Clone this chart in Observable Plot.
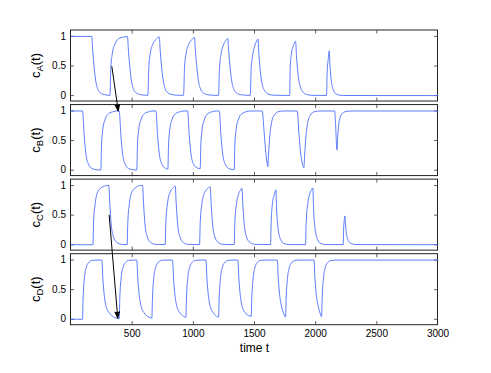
<!DOCTYPE html>
<html><head><meta charset="utf-8">
<script src="https://cdn.jsdelivr.net/npm/d3@7"></script>
<script src="https://cdn.jsdelivr.net/npm/@observablehq/plot@0.6"></script>
<style>body{margin:0;background:#fff}</style>
</head><body><div id="chart"></div>
<script>
// ---- data ----
const panelNames = ["A", "B", "C", "D"];
const xTicks = [500, 1000, 1500, 2000, 2500, 3000];
const yTicks = [0, 0.5, 1];
const yTickLabels = ["0", "0.5", "1"];
const xLabel = "time t";

const cA = [[0,1],[170,1],
 [176,0.81],[187,0.53],[200,0.28],[219,0.11],[241,0.045],[274,0.017],[318,0.004],
 [326,0.48],[337,0.70],[359,0.87],[386,0.955],[413,0.98],[449,0.997],[462,1.0],
 [468,0.81],[479,0.53],[492,0.28],[511,0.11],[533,0.045],[566,0.017],[612,0.006],[628,0.004],
 [636,0.48],[647,0.70],[669,0.87],[696,0.95],[722,0.99],
 [728,0.80],[739,0.52],[752,0.28],[771,0.11],[793,0.045],[826,0.017],[872,0.006],[920,0.004],
 [928,0.47],[939,0.69],[961,0.86],[988,0.945],[1010,0.98],
 [1016,0.79],[1027,0.52],[1040,0.27],[1059,0.11],[1081,0.045],[1114,0.017],[1160,0.006],[1206,0.004],
 [1214,0.47],[1225,0.68],[1245,0.85],[1265,0.93],[1282,0.965],
 [1288,0.78],[1299,0.51],[1312,0.27],[1331,0.11],[1353,0.045],[1386,0.017],[1432,0.006],[1465,0.004],
 [1473,0.46],[1484,0.67],[1500,0.83],[1515,0.91],[1528,0.955],
 [1536,0.70],[1548,0.40],[1562,0.20],[1584,0.08],[1618,0.022],[1659,0.006],[1787,0.002],
 [1792,0.46],[1800,0.68],[1814,0.82],[1827,0.89],[1836,0.917],
 [1843,0.68],[1855,0.38],[1869,0.19],[1891,0.075],[1925,0.02],[1970,0.005],[2089,0.002],
 [2094,0.40],[2103,0.62],[2111,0.756],
 [2116,0.55],[2125,0.30],[2140,0.12],[2160,0.04],[2190,0.01],[2230,0.002],[3000,0]];

const cB = [[0,1],[94,1],
 [108,0.58],[121,0.29],[143,0.10],[170,0.03],[211,0.006],[244,0.003],
 [249,0.41],[260,0.69],[279,0.86],[307,0.955],[348,0.99],[375,1.0],[394,1.0],
 [408,0.58],[421,0.29],[443,0.10],[470,0.03],[511,0.006],[538,0.004],
 [543,0.41],[554,0.69],[573,0.86],[601,0.955],[642,0.99],[670,1.0],[694,1.0],
 [708,0.58],[721,0.29],[743,0.10],[770,0.035],[792,0.02],
 [797,0.41],[808,0.69],[827,0.86],[855,0.955],[896,0.99],[925,1.0],[953,1.0],
 [967,0.58],[980,0.29],[1002,0.10],[1029,0.04],[1056,0.025],
 [1061,0.41],[1072,0.69],[1091,0.86],[1119,0.955],[1160,0.99],[1190,1.0],[1212,1.0],
 [1226,0.58],[1239,0.29],[1261,0.10],[1288,0.03],[1320,0.01],[1334,0.008],
 [1339,0.41],[1350,0.69],[1369,0.86],[1397,0.955],[1438,0.99],[1470,1.0],[1563,1.0],
 [1577,0.69],[1590,0.35],[1602,0.13],[1609,0.056],
 [1614,0.24],[1625,0.58],[1639,0.80],[1658,0.92],[1699,0.99],[1740,1.0],[1849,1.0],
 [1863,0.62],[1876,0.31],[1890,0.12],[1904,0.04],
 [1909,0.22],[1920,0.56],[1934,0.79],[1953,0.92],[1994,0.99],[2035,1.0],[2155,1.0],
 [2163,0.75],[2174,0.34],
 [2182,0.63],[2196,0.86],[2218,0.96],[2258,0.995],[2300,1.0],[3000,1.0]];

const cC = [[0,0],[179,0],
 [184,0.36],[198,0.70],[220,0.90],[253,0.97],[293,1.0],[309,1.0],
 [317,0.70],[328,0.36],[347,0.136],[374,0.04],[415,0.006],[459,0.002],
 [464,0.36],[478,0.70],[500,0.90],[533,0.97],[566,1.0],[585,1.0],
 [593,0.70],[604,0.36],[623,0.136],[650,0.04],[691,0.006],[770,0.002],
 [775,0.36],[789,0.70],[811,0.89],[835,0.96],[852,0.99],
 [860,0.70],[871,0.36],[890,0.136],[917,0.04],[958,0.006],[1051,0.002],
 [1056,0.36],[1070,0.69],[1092,0.88],[1118,0.95],[1138,0.98],
 [1146,0.69],[1157,0.35],[1176,0.13],[1203,0.04],[1244,0.006],[1334,0.002],
 [1339,0.36],[1353,0.69],[1370,0.86],[1385,0.92],[1397,0.955],
 [1405,0.67],[1416,0.34],[1435,0.13],[1462,0.04],[1503,0.006],[1631,0.002],
 [1636,0.36],[1647,0.70],[1661,0.84],[1675,0.927],
 [1680,0.64],[1691,0.30],[1713,0.09],[1740,0.02],[1781,0.003],[1917,0.002],
 [1922,0.36],[1936,0.70],[1950,0.85],[1964,0.92],[1977,0.96],
 [1982,0.66],[1993,0.31],[2015,0.09],[2042,0.02],[2083,0.003],[2225,0.002],
 [2229,0.30],[2234,0.42],[2239,0.486],
 [2244,0.33],[2253,0.17],[2270,0.06],[2290,0.02],[2330,0.003],[3000,0]];

const cD = [[0,0],[94,0],
 [99,0.36],[110,0.70],[124,0.87],[143,0.955],[170,0.994],[198,1.0],[252,1.0],
 [260,0.70],[271,0.42],[287,0.22],[312,0.11],[347,0.04],[388,0.01],[394,0.008],
 [399,0.36],[410,0.70],[424,0.87],[443,0.955],[470,0.994],[500,1.0],[538,1.0],
 [546,0.70],[557,0.42],[573,0.22],[598,0.11],[633,0.04],[661,0.02],
 [666,0.36],[677,0.70],[691,0.87],[710,0.955],[737,0.994],[760,1.0],[830,1.0],
 [838,0.70],[849,0.42],[865,0.22],[890,0.11],[920,0.05],[939,0.03],
 [944,0.36],[955,0.70],[969,0.87],[988,0.955],[1015,0.994],[1040,1.0],[1103,1.0],
 [1111,0.70],[1122,0.42],[1138,0.22],[1163,0.11],[1190,0.05],[1206,0.035],
 [1211,0.36],[1222,0.70],[1236,0.87],[1255,0.955],[1282,0.994],[1300,1.0],[1364,1.0],
 [1372,0.70],[1383,0.42],[1399,0.22],[1424,0.11],[1455,0.06],[1473,0.05],
 [1478,0.36],[1489,0.70],[1503,0.87],[1522,0.955],[1549,0.994],[1570,1.0],[1686,1.0],
 [1694,0.70],[1705,0.42],[1721,0.22],[1740,0.09],[1754,0.04],
 [1759,0.36],[1770,0.70],[1784,0.87],[1803,0.955],[1830,0.994],[1850,1.0],[1986,1.0],
 [1994,0.70],[2005,0.42],[2021,0.22],[2038,0.09],[2048,0.045],
 [2053,0.36],[2064,0.70],[2078,0.87],[2097,0.955],[2124,0.994],[2163,1.0],[3000,1.0]];

// arrows: [t, value, panel index] from -> to
const arrowFrom = [[334, 0.49, 0], [312, 0.5, 2]];
const arrowTo   = [[386, 1.0, 1], [382, 0.02, 3]];

// ---- layout ----
const S = 1.26;               // vertical pitch between panels (in value units)
const yLo = -0.1, yHi = 1.1;  // per-panel y limits
const xLo = 0, xHi = 3000;
const tickLenY = 0.06, tickLenX = 28;
const lineColor = "#4a6cff";
const font = "'Liberation Sans', Arial, Helvetica, sans-serif";

const series = [cA, cB, cC, cD];
const rows = series.flatMap((s, k) => s.map(([t, v]) => ({t, v, k})));
const panels = panelNames.map((name, k) => ({name, k}));
const off = (v, k) => v - k * S;

const xTickMarks = panels.flatMap(p => xTicks.filter(t => t < xHi).flatMap(t => [
  {t, y1: off(yLo, p.k), y2: off(yLo + tickLenY, p.k)},
  {t, y1: off(yHi, p.k), y2: off(yHi - tickLenY, p.k)}]));
const yTickMarks = panels.flatMap(p => yTicks.flatMap(v => [
  {y: off(v, p.k), x1: xLo, x2: xLo + tickLenX},
  {y: off(v, p.k), x1: xHi, x2: xHi - tickLenX}]));
const arrows = arrowFrom.map((f, i) => ({
  x1: f[0], y1: off(f[1], f[2]), x2: arrowTo[i][0], y2: off(arrowTo[i][1], arrowTo[i][2])}));

const yTickVals = panels.flatMap(p => yTicks.map(v => off(v, p.k)));
const yFmt = d => {
  const k = Math.round((0.5 - d) / S);
  const v = Math.round((d + k * S) * 10) / 10;
  return yTickLabels[yTicks.indexOf(v)];
};

const chart = Plot.plot({
  width: 491, height: 373,
  marginLeft: 70.5, marginRight: 53.5, marginTop: 30, marginBottom: 48.3,
  style: {fontFamily: font, fontSize: "10px", background: "white", overflow: "visible"},
  x: {domain: [xLo, xHi]},
  y: {domain: [off(yLo, 3), yHi]},
  marks: [
    Plot.rect(panels, {x1: xLo, x2: xHi, y1: d => off(yLo, d.k), y2: d => off(yHi, d.k),
      fill: "none", stroke: "#222", strokeWidth: 1}),
    Plot.ruleX(xTickMarks, {x: "t", y1: "y1", y2: "y2", stroke: "#333", strokeWidth: 0.8}),
    Plot.ruleY(yTickMarks, {y: "y", x1: "x1", x2: "x2", stroke: "#333", strokeWidth: 0.8}),
    Plot.line(rows, {x: "t", y: d => off(d.v, d.k), z: "k", stroke: lineColor,
      strokeWidth: 0.9, curve: "monotone-x"}),
    Plot.arrow(arrows, {x1: "x1", y1: "y1", x2: "x2", y2: "y2", stroke: "black",
      fill: "black", strokeWidth: 1, headLength: 10, headAngle: 40}),
    Plot.axisY({ticks: yTickVals, tickFormat: yFmt, tickSize: 0, tickPadding: 5,
      label: null, fontSize: 10}),
    Plot.axisX({ticks: xTicks, tickFormat: d => String(d), tickSize: 0, tickPadding: 5, fontSize: 10,
      label: xLabel, labelAnchor: "center", labelArrow: "none", labelOffset: 27})
  ]
});

// y-axis labels with subscripts, positioned with the plot's y scale
const yS = chart.scale("y");
const svg = d3.select(chart);
panels.forEach(p => {
  const cy = yS.apply(off((yLo + yHi) / 2, p.k));
  const txt = svg.append("text")
    .attr("transform", `translate(39.5,${cy}) rotate(-90)`)
    .attr("text-anchor", "middle")
    .attr("font-family", font).attr("font-size", 13).attr("fill", "black");
  txt.append("tspan").text("c");
  txt.append("tspan").attr("font-size", 9.5).attr("dy", 3).text(p.name);
  txt.append("tspan").attr("dy", -3).text("(t)");
});
svg.selectAll("[aria-label='x-axis label'] text").attr("font-size", 12);

document.getElementById("chart").append(chart);
</script>
</body></html>
